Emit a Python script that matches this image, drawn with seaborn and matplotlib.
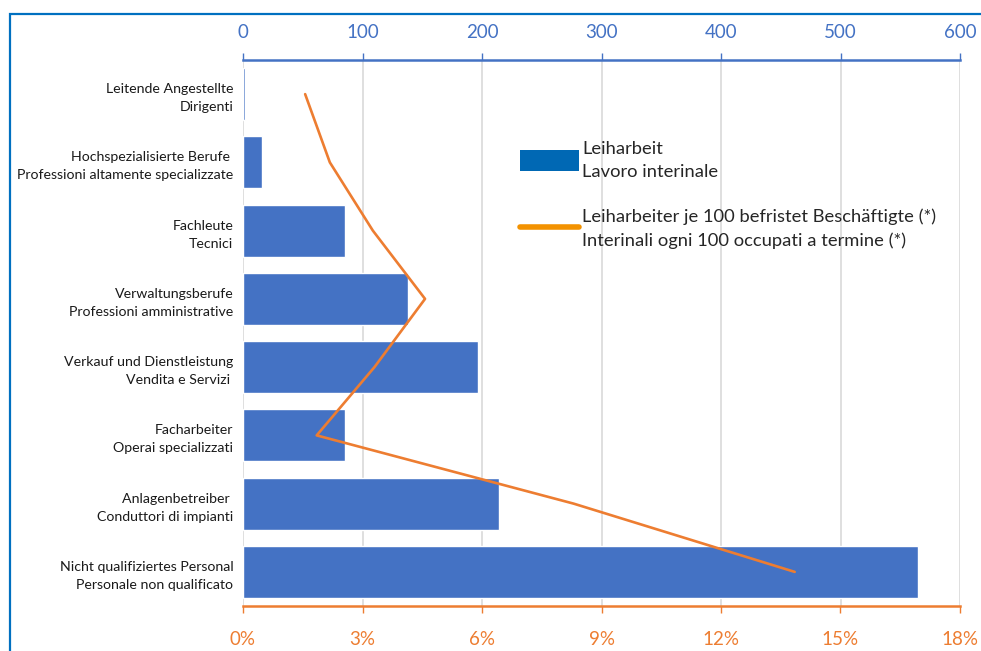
import matplotlib
matplotlib.use("Agg")
import matplotlib.pyplot as plt
import seaborn as sns
import numpy as np
import pandas as pd
from matplotlib.patches import Patch, Rectangle
from matplotlib.lines import Line2D
from matplotlib.ticker import FuncFormatter

categories = [
    "Leitende Angestellte\nDirigenti",
    "Hochspezialisierte Berufe \nProfessioni altamente specializzate",
    "Fachleute\nTecnici",
    "Verwaltungsberufe\nProfessioni amministrative",
    "Verkauf und Dienstleistung\nVendita e Servizi ",
    "Facharbeiter\nOperai specializzati",
    "Anlagenbetreiber \nConduttori di impianti",
    "Nicht qualifiziertes Personal\nPersonale non qualificato",
]
leiharbeit = [1.5, 16, 85, 138, 197, 85, 214, 565]
pct_per_100 = [1.56, 2.18, 3.26, 4.57, 3.30, 1.85, 8.30, 13.85]

bar_label = "Leiharbeit\nLavoro interinale"
line_label = "Leiharbeiter je 100 befristet Beschäftigte (*)\nInterinali ogni 100 occupati a termine (*)"
top_ticks = [0, 100, 200, 300, 400, 500, 600]
bottom_ticks = [0, 3, 6, 9, 12, 15, 18]

BLUE = "#4472C4"
ORANGE = "#ED7D31"

sns.set_theme(style="white")
plt.rcParams["font.family"] = ["Lato", "DejaVu Sans"]

fig = plt.figure(figsize=(9.81, 6.51), dpi=100)
W, H = 981, 651
ax = fig.add_axes([243 / W, 1 - 606 / H, (960 - 243) / W, (606 - 60) / H])

df = pd.DataFrame({"cat": categories, "val": leiharbeit})
sns.barplot(data=df, y="cat", x="val", orient="h", color=BLUE, saturation=1,
            width=0.76, ax=ax, zorder=2)
ax.set_xlim(0, 600)
ax.set_ylim(7.5, -0.5)
ax.set_xlabel("")
ax.set_ylabel("")

ax2 = ax.twiny()
ldf = pd.DataFrame({"pct": pct_per_100, "pos": np.arange(len(categories))})
sns.lineplot(data=ldf, x="pct", y="pos", sort=False, orient="y", color=ORANGE,
             linewidth=1.9, ax=ax2, zorder=3)
ax2.set_xlim(0, 18)
ax2.set_ylim(7.5, -0.5)
ax2.set_xlabel("")
ax2.set_ylabel("")

# top axis (bars)
ax.xaxis.tick_top()
ax.xaxis.set_label_position("top")
ax.set_xticks(top_ticks)
ax.tick_params(axis="x", colors=BLUE, labelcolor=BLUE, labelsize=13.5, length=5,
               width=1, pad=9, direction="out",
               top=True, bottom=False, labeltop=True, labelbottom=False)
ax.tick_params(axis="y", length=0, labelsize=10.2, pad=7, labelcolor="#1a1a1a")
for t in ax.get_yticklabels():
    t.set_linespacing(1.6)
ax.xaxis.grid(True, color="#D9D9D9", linewidth=1.2, zorder=0)
ax.set_axisbelow(True)
for s in ["left", "right", "bottom"]:
    ax.spines[s].set_visible(False)
ax.spines["top"].set_color(BLUE)
ax.spines["top"].set_linewidth(1.8)

# bottom axis (line)
ax2.xaxis.tick_bottom()
ax2.xaxis.set_label_position("bottom")
ax2.set_xticks(bottom_ticks)
ax2.xaxis.set_major_formatter(FuncFormatter(lambda v, p: f"{v:.0f}%"))
ax2.tick_params(axis="x", colors=ORANGE, labelcolor=ORANGE, labelsize=13.5,
                length=5, width=1, pad=13, direction="out",
                bottom=True, top=False, labelbottom=True, labeltop=False)
for s in ["left", "right", "top"]:
    ax2.spines[s].set_visible(False)
ax2.spines["bottom"].set_visible(True)
ax2.spines["bottom"].set_color(ORANGE)
ax2.spines["bottom"].set_linewidth(1.8)
ax2.yaxis.set_visible(False)

handles = [Patch(facecolor="#0068B4", edgecolor="none"),
           Line2D([0], [0], color="#F39200", linewidth=4)]
leg = fig.legend(handles, [bar_label, line_label], loc="upper left",
                 bbox_to_anchor=(520 / W, 1 - 141 / H), frameon=False,
                 fontsize=13.2, handlelength=3.2, handleheight=1.4,
                 handletextpad=0.2, labelspacing=1.6, borderpad=0,
                 borderaxespad=0)
for t in leg.get_texts():
    t.set_linespacing(1.5)

fig.patches.append(Rectangle((9.5 / W, -0.1), 1.2, 1.1 - 14 / H,
                             transform=fig.transFigure, fill=False,
                             edgecolor="#0070C0", linewidth=1.6))

fig.savefig("out.png", dpi=100)
